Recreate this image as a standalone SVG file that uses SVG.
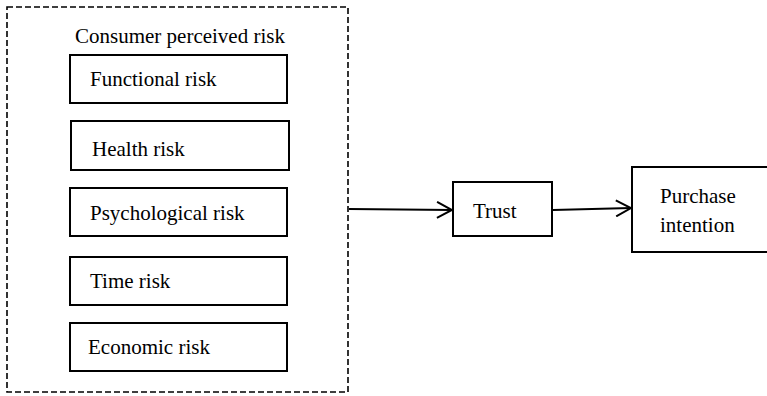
<svg xmlns="http://www.w3.org/2000/svg" width="767" height="396" viewBox="0 0 767 396">
<style>
.box{fill:#fff;stroke:#000;stroke-width:2}
.dash{fill:none;stroke:#000;stroke-width:1.6;stroke-dasharray:6,3}
.t{font-family:"Liberation Serif","Times New Roman",serif;font-size:21px;fill:#000}
.c{stroke:#000;stroke-width:2;fill:none}
</style>
<defs>
<marker id="ah" markerWidth="18" markerHeight="18" refX="16" refY="9" orient="auto" markerUnits="userSpaceOnUse">
<path d="M1,1 L16,9 L1,17" fill="none" stroke="#000" stroke-width="2"/>
</marker>
</defs>
<rect width="767" height="396" fill="#fff"/>
<g id="group-risk">
<rect class="dash" x="7" y="7" width="341" height="385"/>
<text class="t" x="75" y="43">Consumer perceived risk</text>
</g>
<g id="functional"><rect class="box" x="70" y="55" width="217" height="48"/><text class="t" x="90" y="86">Functional risk</text></g>
<g id="health"><rect class="box" x="71" y="121" width="218" height="49"/><text class="t" x="92" y="156">Health risk</text></g>
<g id="psychological"><rect class="box" x="70" y="188" width="217" height="48"/><text class="t" x="90" y="220">Psychological risk</text></g>
<g id="time"><rect class="box" x="70" y="257" width="217" height="48"/><text class="t" x="90" y="288">Time risk</text></g>
<g id="economic"><rect class="box" x="70" y="323" width="217" height="48"/><text class="t" x="88" y="354">Economic risk</text></g>
<g id="trust"><rect class="box" x="453" y="182" width="99" height="54"/><text class="t" x="473" y="218">Trust</text></g>
<g id="purchase"><rect class="box" x="632" y="167" width="140" height="85"/><text class="t" x="660" y="203">Purchase</text><text class="t" x="660" y="232">intention</text></g>
<g id="connectors">
<line class="c" x1="349" y1="209" x2="452" y2="210" marker-end="url(#ah)"/>
<line class="c" x1="553" y1="210" x2="631" y2="208" marker-end="url(#ah)"/>
</g>
</svg>
